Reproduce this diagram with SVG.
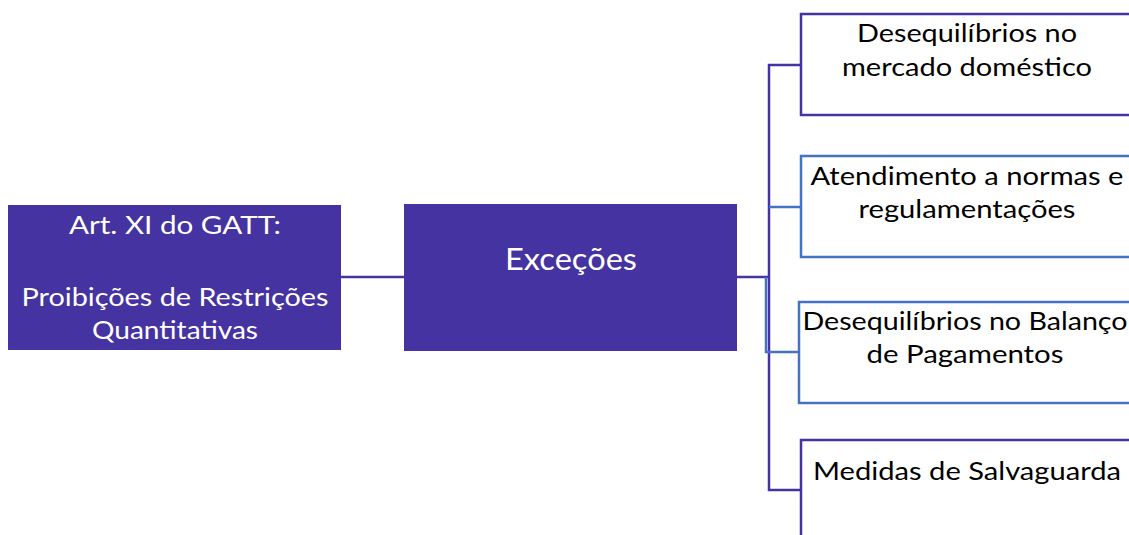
<svg xmlns="http://www.w3.org/2000/svg" width="1129" height="535" viewBox="0 0 1129 535">
<style>
.dark{fill:#4433A1;}
.box{fill:#fff;stroke-width:2.5;}
.p{stroke:#4433A1;}
.b{stroke:#4472C4;}
.conn{fill:none;stroke-width:2.5;}
text{font-family:Lato,"Noto Sans",sans-serif;font-size:25.5px;text-anchor:middle;}
.w{fill:#fff;}
.k{fill:#000;}
</style>
<rect width="1129" height="535" fill="#fff"/>
<g id="connectors">
<line class="conn p" x1="341" y1="277" x2="404" y2="277"/>
<line class="conn p" x1="737" y1="277" x2="769" y2="277"/>
<polyline class="conn p" points="801,65 769,65 769,490 801,490"/>
<line class="conn b" x1="769" y1="207" x2="801" y2="207"/>
<polyline class="conn b" points="766,277 766,352 799,352"/>
</g>
<g id="art-xi">
<rect class="dark" x="8" y="205" width="333" height="145"/>
<text class="w" x="175" y="234" textLength="212" lengthAdjust="spacingAndGlyphs">Art. XI do GATT:</text>
<text class="w" x="175" y="306" textLength="307" lengthAdjust="spacingAndGlyphs">Proibições de Restrições</text>
<text class="w" x="175" y="339" textLength="166" lengthAdjust="spacingAndGlyphs">Quantitativas</text>
</g>
<g id="excecoes">
<rect class="dark" x="404" y="204" width="333" height="147"/>
<text class="w" x="571" y="270" style="font-size:30px" textLength="132" lengthAdjust="spacingAndGlyphs">Exceções</text>
</g>
<g id="mercado">
<rect class="box p" x="801" y="14" width="333" height="101"/>
<text class="k" x="967" y="42" textLength="220" lengthAdjust="spacingAndGlyphs">Desequilíbrios no</text>
<text class="k" x="967" y="76" textLength="250" lengthAdjust="spacingAndGlyphs">mercado doméstico</text>
</g>
<g id="normas">
<rect class="box b" x="801" y="156" width="333" height="101"/>
<text class="k" x="967" y="185" textLength="313" lengthAdjust="spacingAndGlyphs">Atendimento a normas e</text>
<text class="k" x="967" y="218" textLength="217" lengthAdjust="spacingAndGlyphs">regulamentações</text>
</g>
<g id="balanco">
<rect class="box b" x="799" y="302" width="335" height="101"/>
<text class="k" x="965" y="330" textLength="325" lengthAdjust="spacingAndGlyphs">Desequilíbrios no Balanço</text>
<text class="k" x="965" y="363" textLength="197" lengthAdjust="spacingAndGlyphs">de Pagamentos</text>
</g>
<g id="salvaguarda">
<rect class="box p" x="801" y="440" width="333" height="101"/>
<text class="k" x="967" y="480" textLength="308" lengthAdjust="spacingAndGlyphs">Medidas de Salvaguarda</text>
</g>
</svg>
